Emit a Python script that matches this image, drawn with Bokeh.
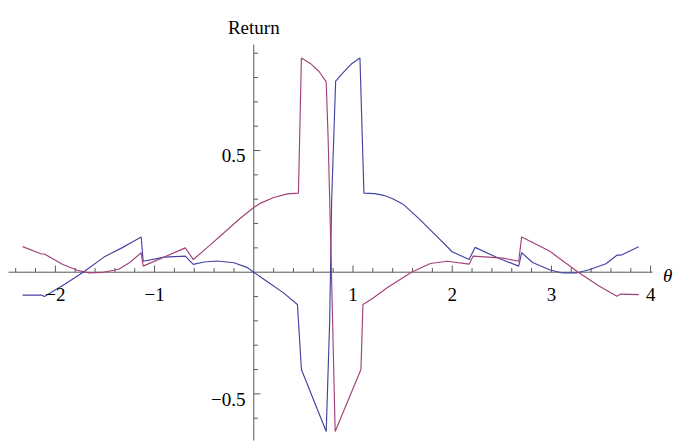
from bokeh.plotting import figure
from bokeh.core.properties import value
from bokeh.embed import file_html
from bokeh.resources import INLINE

# ---- data ----
blue_x = [-2.33, -2.14, -2.11, -1.89, -1.72, -1.50, -1.33, -1.22, -1.135, -1.115,
          -0.90, -0.69, -0.61, -0.50, -0.37, -0.20, -0.07, 0.00, 0.13, 0.30,
          0.44, 0.48, 0.73, 0.765, 0.775, 0.785, 0.825, 0.91, 0.99, 1.07,
          1.11, 1.22, 1.31, 1.40, 1.51, 1.67, 1.84, 2.00, 2.17, 2.23, 2.48,
          2.67, 2.70, 2.81, 2.98, 3.11, 3.25, 3.38, 3.55, 3.66, 3.70, 3.88]
blue_y = [-0.094, -0.094, -0.100, -0.045, 0.000, 0.065, 0.100, 0.125, 0.145, 0.045,
          0.062, 0.066, 0.032, 0.042, 0.046, 0.039, 0.020, 0.000, -0.037, -0.085,
          -0.133, -0.400, -0.655, -0.200, 0.050, 0.300, 0.785, 0.824, 0.858, 0.880,
          0.325, 0.323, 0.316, 0.302, 0.278, 0.218, 0.149, 0.084, 0.052, 0.102, 0.055,
          0.025, 0.080, 0.040, 0.010, -0.003, -0.003, 0.010, 0.035, 0.070, 0.070, 0.105]

magenta_x = [-2.33, -2.14, -2.11, -1.93, -1.78, -1.66, -1.53, -1.36, -1.25, -1.135,
             -1.115, -0.69, -0.61, -0.45, -0.30, -0.13, 0.00, 0.07, 0.20, 0.34,
             0.45, 0.48, 0.57, 0.66, 0.73, 0.75, 0.78, 0.82, 1.08, 1.10,
             1.20, 1.34, 1.59, 1.78, 1.95, 2.17, 2.21, 2.51, 2.67, 2.70,
             2.98, 3.27, 3.48, 3.66, 3.70, 3.88]
magenta_y = [0.105, 0.075, 0.075, 0.033, 0.008, -0.003, -0.001, 0.012, 0.040, 0.080,
             0.025, 0.100, 0.052, 0.108, 0.162, 0.224, 0.266, 0.284, 0.307, 0.322,
             0.325, 0.880, 0.858, 0.824, 0.782, 0.540, 0.050, -0.655, -0.400, -0.133,
             -0.107, -0.065, 0.000, 0.036, 0.045, 0.033, 0.066, 0.058, 0.045, 0.145,
             0.087, 0.000, -0.057, -0.099, -0.090, -0.092]

x_major = [-2, -1, 1, 2, 3, 4]
x_major_labels = ["\u22122", "\u22121", "1", "2", "3", "4"]
x_minor = [-2.4, -2.2, -1.8, -1.6, -1.4, -1.2, -0.8, -0.6, -0.4, -0.2,
           0.2, 0.4, 0.6, 0.8, 1.2, 1.4, 1.6, 1.8, 2.2, 2.4, 2.6, 2.8,
           3.2, 3.4, 3.6, 3.8]
y_major = [0.5, -0.5]
y_major_labels = ["0.5", "\u22120.5"]
y_minor = [-0.6, -0.4, -0.3, -0.2, -0.1, 0.1, 0.2, 0.3, 0.4, 0.6, 0.7, 0.8, 0.9]

x_label = "\u03b8"
y_label = "Return"

# axis extents
x_axis_min, x_axis_max = -2.473, 4.019
y_axis_min, y_axis_max = -0.692, 0.936

# ---- figure ----
XPX = 99.2   # px per x unit
YPX = 243.3  # px per y unit

p = figure(width=680, height=441, output_backend="svg", toolbar_location=None,
           x_range=(-2.553, 4.301), y_range=(-0.6958, 1.1167),
           x_axis_type=None, y_axis_type=None,
           min_border_left=0, min_border_right=0, min_border_top=0, min_border_bottom=0)
p.outline_line_color = None
p.background_fill_color = "white"
p.border_fill_color = "white"

axis_color = "#5a5a5a"
# axis lines
p.segment(x0=[x_axis_min, 0], y0=[0, y_axis_min], x1=[x_axis_max, 0], y1=[0, y_axis_max],
          line_color=axis_color, line_width=1)

# x ticks (pointing up)
p.segment(x0=x_major, y0=[0] * len(x_major), x1=x_major, y1=[6.7 / YPX] * len(x_major),
          line_color=axis_color, line_width=1)
p.segment(x0=x_minor, y0=[0] * len(x_minor), x1=x_minor, y1=[4.2 / YPX] * len(x_minor),
          line_color=axis_color, line_width=1)
# y ticks (pointing right)
p.segment(x0=[0] * len(y_major), y0=y_major, x1=[6.7 / XPX] * len(y_major), y1=y_major,
          line_color=axis_color, line_width=1)
p.segment(x0=[0] * len(y_minor), y0=y_minor, x1=[4.2 / XPX] * len(y_minor), y1=y_minor,
          line_color=axis_color, line_width=1)

# curves
p.line(blue_x, blue_y, line_color="#4343a3", line_width=1.15)
p.line(magenta_x, magenta_y, line_color="#a0427a", line_width=1.15)

font = value("Liberation Serif")
fs = value("19px")
p.text(x=x_major, y=[-22.6 / YPX] * len(x_major), text=x_major_labels,
       text_font=font, text_font_size=fs, text_color="black",
       text_align="center", text_baseline="alphabetic")
p.text(x=[-8.3 / XPX] * len(y_major), y=[v - 0.022 for v in y_major], text=y_major_labels,
       text_font=font, text_font_size=fs, text_color="black",
       text_align="right", text_baseline="alphabetic")
p.text(x=[0], y=[1.006], text=[y_label], text_font=font, text_font_size=fs,
       text_color="black", text_align="center", text_baseline="alphabetic")
p.text(x=[4.125], y=[-0.014], text=[x_label], text_font=font, text_font_size=fs,
       text_font_style="italic", text_color="black",
       text_align="left", text_baseline="alphabetic")

open("out.html", "w").write(file_html(p, INLINE))
